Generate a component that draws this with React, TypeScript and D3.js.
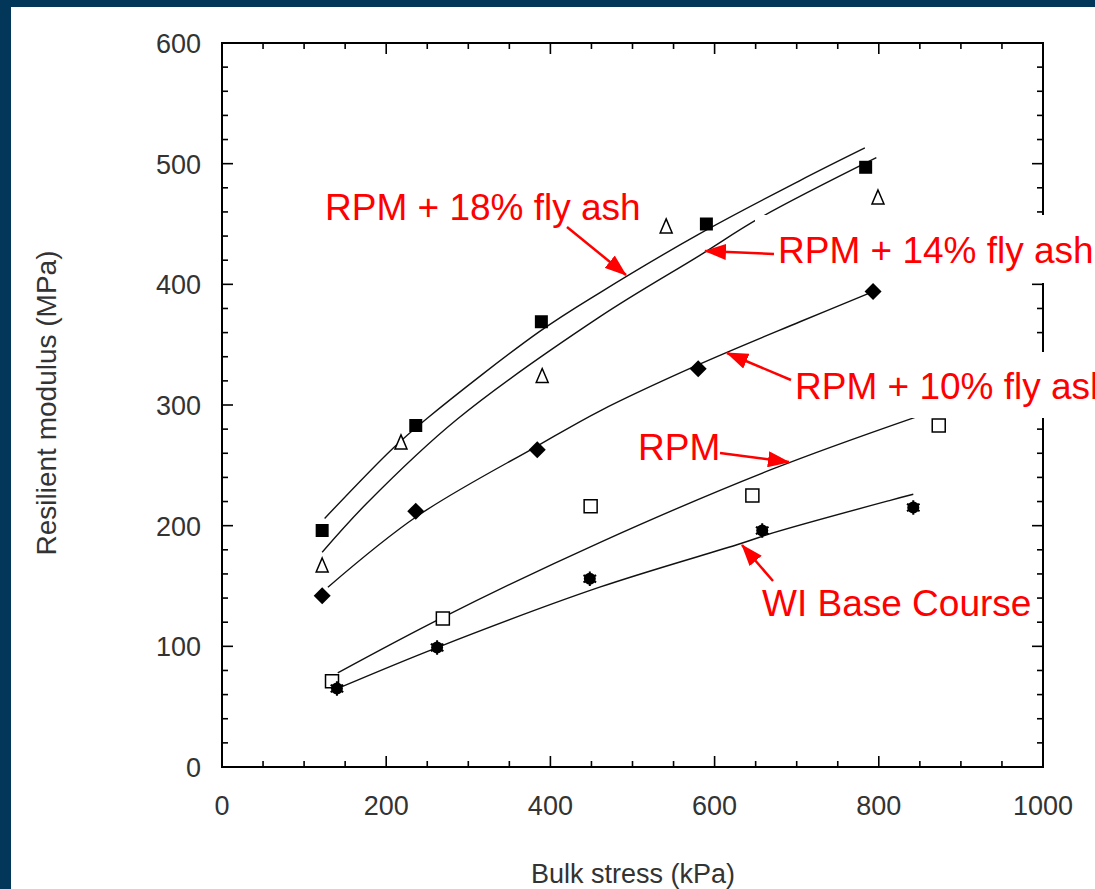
import React from 'react'
import * as d3 from 'd3'

// measured points (bulk stress kPa, resilient modulus MPa)
const fly18Points = [[122, 196], [236, 283], [389, 369], [590, 450], [784, 497]]
const fly14Points = [[122, 167], [218, 269], [390, 324], [541, 448], [799, 472]]
const fly10Points = [[122, 142], [236, 212], [384, 263], [580, 330], [793, 394]]
const rpmPoints = [[134, 71], [269, 123], [449, 216], [646, 225], [873, 283]]
const wiPoints = [[140, 65], [262, 99], [448, 156], [658, 196], [842, 215]]

// fitted curves
const fly18Fit = [[125, 206], [208, 264], [250, 289], [387, 361], [460, 393], [582, 442], [704, 486], [783, 513]]
const fly14Fit = [[122, 178], [177, 219], [286, 288], [460, 373], [582, 424], [655, 455], [797, 505]]
const fly10Fit = [[129, 149], [238, 208], [384, 266], [460, 295], [579, 333], [704, 369], [793, 394]]
const rpmFit = [[141, 78], [269, 124], [460, 186], [671, 247], [845, 290]]
const wiFit = [[144, 66], [262, 99], [460, 149], [631, 185], [671, 194], [814, 221], [842, 226]]

const xTickValues = [0, 200, 400, 600, 800, 1000]
const yTickValues = [0, 100, 200, 300, 400, 500, 600]

const W = 1095
const H = 889
const RED = '#ff0000'
const FONT = '"Liberation Sans", Arial, sans-serif'

// labels + arrows (pixel layout)
const notes = [
  { text: 'RPM + 18% fly ash', x: 325, y: 220, from: [567, 227], to: [626, 275] },
  { text: 'RPM + 14% fly ash', x: 778, y: 263, from: [774, 254], to: [705, 251], box: [755, 215, 340, 68] },
  { text: 'RPM + 10% fly ash', x: 795, y: 399, from: [791, 380], to: [727, 353], box: [785, 352, 310, 66] },
  { text: 'RPM', x: 638, y: 460, from: [720, 453], to: [789, 462] },
  { text: 'WI Base Course', x: 762, y: 616, from: [773, 581], to: [742, 545] },
]

const x = d3.scaleLinear().domain([0, 1000]).range([222, 1043])
const y = d3.scaleLinear().domain([0, 600]).range([767, 43])

const line = d3.line<number[]>()
  .x(d => x(d[0]))
  .y(d => y(d[1]))
  .curve(d3.curveCatmullRom.alpha(0.5))

const squarePath = 'M-6.5,-6.5H6.5V6.5H-6.5Z'
const trianglePath = 'M0,-7.5L6,6.5H-6Z'
const diamondPath = 'M0,-8.5L8.5,0L0,8.5L-8.5,0Z'

const App = () => {
  const xMinor = d3.range(0, 1001, 50)
  const yMinor = d3.range(0, 601, 20)
  const [x0, x1] = x.range()
  const [y0, y1] = y.range()

  return (
    <svg width={W} height={H} style={{ position: 'absolute', left: 0, top: 0, display: 'block' }}>
      <defs>
        <marker id="arrow" markerUnits="userSpaceOnUse" markerWidth={22} markerHeight={16}
          refX={21} refY={8} orient="auto">
          <path d="M0,0L22,8L0,16Z" fill={RED} />
        </marker>
      </defs>
      <rect width={W} height={H} fill="#02375a" />
      <rect x={11} y={7} width={W - 11} height={H - 7} fill="#fff" />

      {/* frame */}
      <rect x={x0} y={y1} width={x1 - x0} height={y0 - y1} fill="none" stroke="#000" strokeWidth={2} />
      {xMinor.map(v => {
        const len = v % 200 === 0 ? 11 : 6
        return (
          <g key={'xt' + v} stroke="#000" strokeWidth={1.6}>
            <line x1={x(v)} x2={x(v)} y1={y0} y2={y0 - len} />
            <line x1={x(v)} x2={x(v)} y1={y1} y2={y1 + len} />
          </g>
        )
      })}
      {yMinor.map(v => {
        const len = v % 100 === 0 ? 11 : 6
        return (
          <g key={'yt' + v} stroke="#000" strokeWidth={1.6}>
            <line x1={x0} x2={x0 + len} y1={y(v)} y2={y(v)} />
            <line x1={x1} x2={x1 - len} y1={y(v)} y2={y(v)} />
          </g>
        )
      })}
      {xTickValues.map(v => (
        <text key={'xl' + v} x={x(v)} y={815} textAnchor="middle" fontFamily={FONT} fontSize={27} fill="#333">{v}</text>
      ))}
      {yTickValues.map(v => (
        <text key={'yl' + v} x={201} y={y(v) + 10} textAnchor="end" fontFamily={FONT} fontSize={27} fill="#333">{v}</text>
      ))}
      <text x={633} y={883} textAnchor="middle" fontFamily={FONT} fontSize={27} fill="#333">Bulk stress (kPa)</text>
      <text transform="translate(56,403) rotate(-90)" textAnchor="middle" fontFamily={FONT} fontSize={28} fill="#333">
        Resilient modulus (MPa)
      </text>

      {/* fit curves */}
      {[fly18Fit, fly14Fit, fly10Fit, rpmFit, wiFit].map((s, i) => (
        <path key={'fit' + i} d={line(s) || ''} fill="none" stroke="#111" strokeWidth={1.4} />
      ))}

      {/* markers */}
      {fly14Points.map((d, i) => (
        <path key={'t' + i} d={trianglePath} transform={`translate(${x(d[0])},${y(d[1])})`}
          fill="#fff" stroke="#000" strokeWidth={1.5} />
      ))}
      {fly18Points.map((d, i) => (
        <path key={'s' + i} d={squarePath} transform={`translate(${x(d[0])},${y(d[1])})`} fill="#000" />
      ))}
      {fly10Points.map((d, i) => (
        <path key={'d' + i} d={diamondPath} transform={`translate(${x(d[0])},${y(d[1])})`} fill="#000" />
      ))}
      {rpmPoints.map((d, i) => (
        <path key={'o' + i} d={squarePath} transform={`translate(${x(d[0])},${y(d[1])})`}
          fill="#fff" stroke="#000" strokeWidth={1.5} />
      ))}
      {wiPoints.map((d, i) => (
        <g key={'w' + i} transform={`translate(${x(d[0])},${y(d[1])})`}>
          <circle r={6} fill="#000" />
          <path d={d3.symbol(d3.symbolAsterisk, 150)() || ''} stroke="#000" strokeWidth={2} />
        </g>
      ))}

      {/* label boxes + annotations */}
      {notes.filter(n => n.box).map((n, i) => (
        <rect key={'b' + i} x={n.box![0]} y={n.box![1]} width={n.box![2]} height={n.box![3]} fill="#fff" />
      ))}
      {notes.map((n, i) => (
        <g key={'n' + i}>
          <text x={n.x} y={n.y} fontFamily={FONT} fontSize={37} fill={RED}>{n.text}</text>
          <line x1={n.from[0]} y1={n.from[1]} x2={n.to[0]} y2={n.to[1]} stroke={RED} strokeWidth={2.5}
            markerEnd="url(#arrow)" />
        </g>
      ))}
    </svg>
  )
}

export default App
